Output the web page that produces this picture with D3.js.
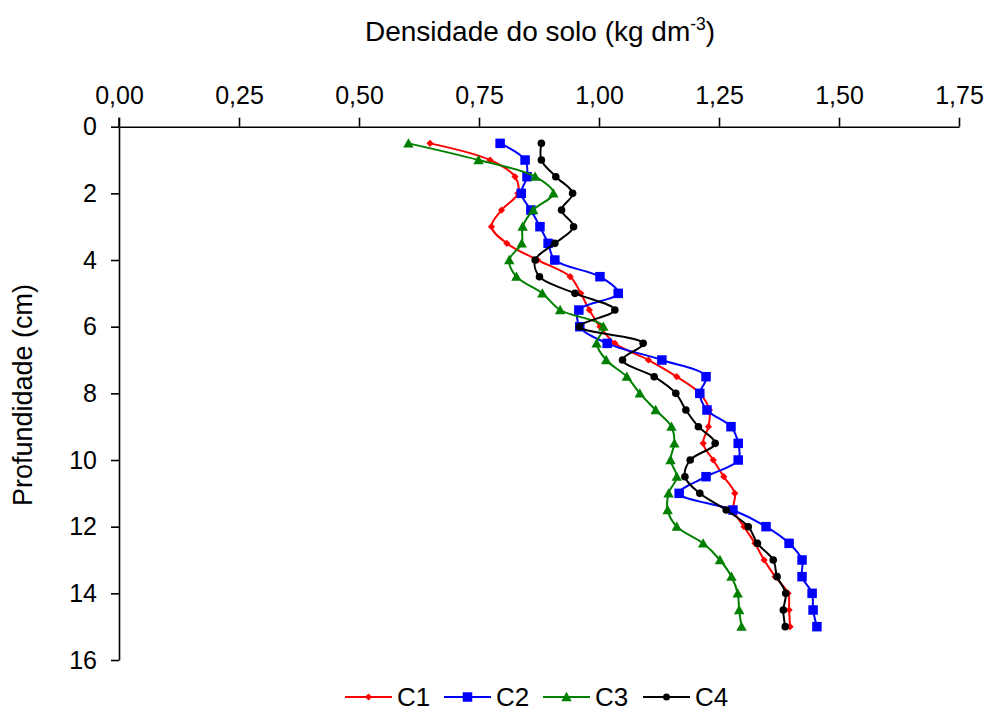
<!DOCTYPE html>
<html>
<head>
<meta charset="utf-8">
<script src="https://cdn.jsdelivr.net/npm/d3@7"></script>
<style>
  html, body { margin: 0; padding: 0; background: #fff; }
  svg { display: block; font-family: "Liberation Sans", Arial, sans-serif; }
</style>
</head>
<body>
<svg id="chart" width="992" height="714"></svg>
<script>
const depths = [0.5,1,1.5,2,2.5,3,3.5,4,4.5,5,5.5,6,6.5,7,7.5,8,8.5,9,9.5,10,10.5,11,11.5,12,12.5,13,13.5,14,14.5,15];
const c1 = [0.648,0.773,0.825,0.831,0.797,0.776,0.808,0.872,0.940,0.962,0.980,1.002,1.033,1.103,1.162,1.210,1.230,1.228,1.217,1.238,1.260,1.283,1.280,1.302,1.325,1.344,1.367,1.394,1.396,1.398];
const c2 = [0.794,0.846,0.850,0.838,0.858,0.877,0.894,0.908,1.002,1.040,0.958,0.960,1.017,1.131,1.223,1.210,1.225,1.275,1.290,1.290,1.223,1.167,1.279,1.348,1.396,1.423,1.423,1.444,1.446,1.454];
const c3 = [0.603,0.749,0.867,0.905,0.863,0.841,0.839,0.813,0.828,0.882,0.919,1.009,0.995,1.015,1.058,1.085,1.118,1.151,1.157,1.149,1.162,1.145,1.143,1.162,1.217,1.252,1.276,1.289,1.292,1.297];
const c4 = [0.880,0.880,0.910,0.945,0.922,0.947,0.908,0.867,0.876,0.950,1.033,0.959,1.092,1.049,1.115,1.160,1.181,1.207,1.242,1.190,1.179,1.210,1.265,1.311,1.330,1.363,1.371,1.389,1.384,1.388];
const seriesNames = ["C1","C2","C3","C4"];
const seriesColors = ["#ff0000","#0000ff","#008000","#000000"];
const seriesMarkers = ["diamond","square","triangle","circle"];
const xTicks = [0,0.25,0.5,0.75,1,1.25,1.5,1.75];
const yTicks = [0,2,4,6,8,10,12,14,16];
const xTitle = "Densidade do solo (kg dm";
const yTitle = "Profundidade (cm)";

const svg = d3.select("#chart");
const x = d3.scaleLinear().domain([0,1.75]).range([119,959]);
const y = d3.scaleLinear().domain([0,16]).range([126.7,660]);

const fmt = d => d.toFixed(2).replace(".", ",");

const xAxis = svg.append("g").attr("transform", `translate(0,${y(0)})`)
  .call(d3.axisTop(x).tickValues(xTicks).tickFormat(fmt).tickSize(9).tickSizeOuter(0).tickPadding(14));
const yAxis = svg.append("g").attr("transform", `translate(${x(0)},0)`)
  .call(d3.axisLeft(y).tickValues(yTicks).tickFormat(d3.format("d")).tickSize(8).tickSizeOuter(0).tickPadding(14));
[xAxis, yAxis].forEach(g => {
  g.selectAll("path.domain").attr("stroke", "#000").attr("stroke-width", 1.6);
  g.selectAll(".tick line").attr("stroke", "#000").attr("stroke-width", 1.6);
  g.selectAll(".tick text").attr("fill", "#000").style("font-size", "25px").style("font-family", "'Liberation Sans', Arial, sans-serif");
});
// small vertical extension above the x axis at the origin
svg.append("line").attr("x1", x(0)).attr("x2", x(0)).attr("y1", y(0) - 9).attr("y2", y(0))
  .attr("stroke", "#000").attr("stroke-width", 1.6);

// titles
const tt = svg.append("text").attr("x", 540).attr("y", 41).attr("text-anchor", "middle")
  .style("font-size", "28px").attr("fill", "#000");
tt.append("tspan").text(xTitle);
tt.append("tspan").attr("dy", -11).style("font-size", "17.5px").text("-3");
tt.append("tspan").attr("dy", 11).text(")");

svg.append("text").attr("transform", `translate(32,395) rotate(-90)`)
  .attr("text-anchor", "middle").style("font-size", "27px").attr("fill", "#000").text(yTitle);

const data = [c1, c2, c3, c4];
const line = d3.line().x(d => x(d[1])).y(d => y(d[0])).curve(d3.curveCatmullRom.alpha(0.5));

function marker(g, type, color, cx, cy, legend) {
  if (type === "square") {
    const s = 9.5;
    g.append("rect").attr("x", cx - s/2).attr("y", cy - s/2).attr("width", s).attr("height", s).attr("fill", color);
  } else if (type === "circle") {
    g.append("circle").attr("cx", cx).attr("cy", cy).attr("r", legend ? 3.5 : 3.8).attr("fill", color);
  } else if (type === "triangle") {
    const s = 5.2;
    g.append("path").attr("d", `M${cx},${cy - s}L${cx + s},${cy + s*0.8}L${cx - s},${cy + s*0.8}Z`).attr("fill", color);
  } else {
    const s = 3.6;
    g.append("path").attr("d", `M${cx},${cy - s}L${cx + s},${cy}L${cx},${cy + s}L${cx - s},${cy}Z`).attr("fill", color);
  }
}

data.forEach((vals, i) => {
  const pts = depths.map((d, j) => [d, vals[j]]);
  const g = svg.append("g");
  g.append("path").attr("d", line(pts)).attr("fill", "none").attr("stroke", seriesColors[i]).attr("stroke-width", 2);
  pts.forEach(p => marker(g, seriesMarkers[i], seriesColors[i], x(p[1]), y(p[0]), false));
});

// legend
const legendX = [345, 444, 543, 643];
seriesNames.forEach((n, i) => {
  const g = svg.append("g");
  const lx = legendX[i], ly = 697;
  g.append("line").attr("x1", lx).attr("x2", lx + 47).attr("y1", ly).attr("y2", ly)
    .attr("stroke", seriesColors[i]).attr("stroke-width", 2);
  marker(g, seriesMarkers[i], seriesColors[i], lx + 23.5, ly, true);
  g.append("text").attr("x", lx + 52).attr("y", ly + 9).style("font-size", "26px").attr("fill", "#000").text(n);
});
</script>
</body>
</html>
